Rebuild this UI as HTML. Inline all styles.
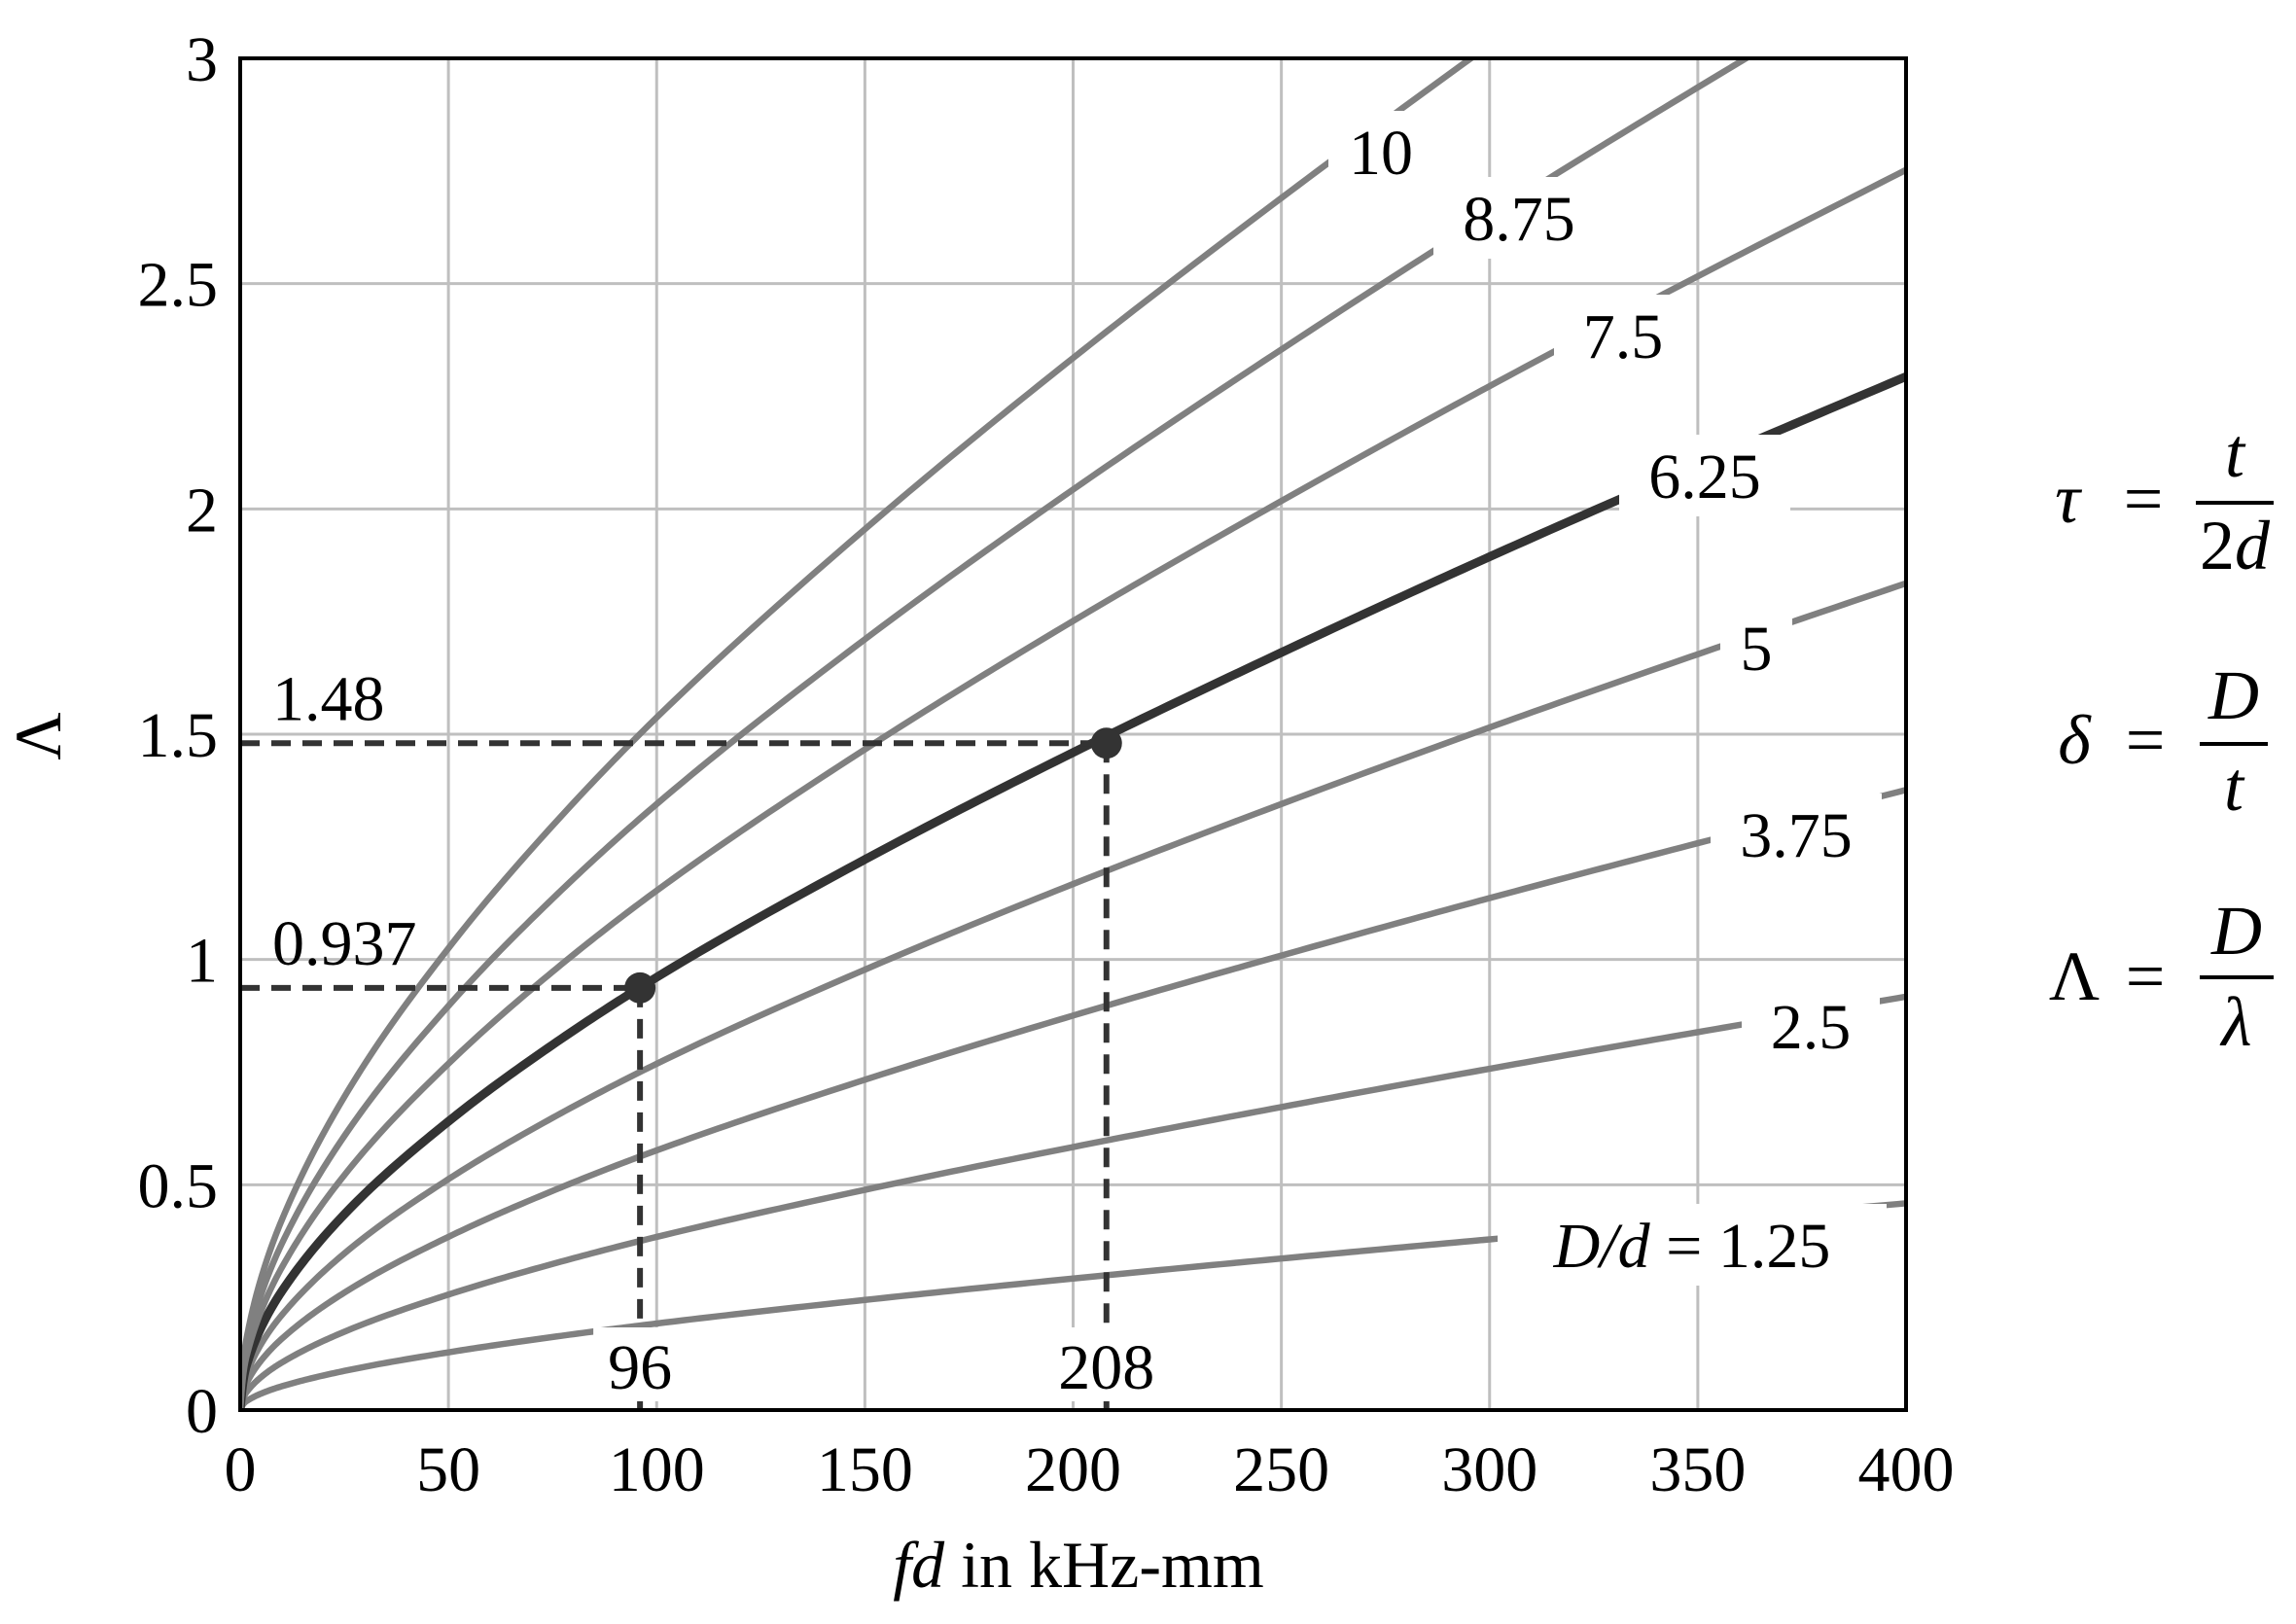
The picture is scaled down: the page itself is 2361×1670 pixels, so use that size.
<!DOCTYPE html>
<html><head><meta charset="utf-8"><style>
html,body{margin:0;padding:0;background:#fff}
svg{display:block}
text{font-family:"Liberation Serif","DejaVu Serif",serif;fill:#000}
</style></head><body>
<svg id="chart" width="2361" height="1670" viewBox="0 0 2361 1670" xmlns="http://www.w3.org/2000/svg">
<defs><clipPath id="plotclip"><rect x="247" y="60" width="1713" height="1390"/></clipPath></defs>
<g id="grid"></g>
<g id="curves" clip-path="url(#plotclip)"></g>
<g id="labels"></g>
<g id="marks"></g>
<rect x="247" y="60" width="1713" height="1390" fill="none" stroke="#000" stroke-width="4"/>
<g id="ticks"></g>
<text x="1109" y="1632" font-size="68" text-anchor="middle"><tspan font-style="italic">fd</tspan> in kHz-mm</text>
<text x="0" y="0" font-size="68" text-anchor="middle" transform="translate(62,757) rotate(-90)">Λ</text>
<g font-size="72">
<text x="2126" y="537" text-anchor="middle" font-style="italic">τ</text>
<text x="2204" y="537" text-anchor="middle">=</text>
<line x1="2258" y1="517" x2="2338" y2="517" stroke="#000" stroke-width="4"/>
<text x="2298" y="490" text-anchor="middle" font-style="italic">t</text>
<text x="2298" y="585" text-anchor="middle">2<tspan font-style="italic">d</tspan></text>
</g>
<g font-size="72">
<text x="2133" y="785" text-anchor="middle" font-style="italic">δ</text>
<text x="2206" y="785" text-anchor="middle">=</text>
<line x1="2262" y1="765" x2="2332" y2="765" stroke="#000" stroke-width="4"/>
<text x="2297" y="739" text-anchor="middle" font-style="italic">D</text>
<text x="2297" y="833" text-anchor="middle" font-style="italic">t</text>
</g>
<g font-size="72">
<text x="2133" y="1028" text-anchor="middle">Λ</text>
<text x="2206" y="1028" text-anchor="middle">=</text>
<line x1="2262" y1="1005" x2="2338" y2="1005" stroke="#000" stroke-width="4"/>
<text x="2300" y="981" text-anchor="middle" font-style="italic">D</text>
<text x="2300" y="1075" text-anchor="middle" font-style="italic">λ</text>
</g>
</svg>
<script>
const fdValues = [0,1,2,5,10,25,50,75,100,150,200,250,300,350,400];
const ratioLabels = ["1.25","2.5","3.75","5","6.25","7.5","8.75","10"];
const s125 = [0,0.0159,0.0226,0.0365,0.0528,0.0869,0.1281,0.1621,0.1921,0.2444,0.2919,0.3363,0.3788,0.4194,0.4588];
const s250 = [0,0.0318,0.0453,0.073,0.1055,0.1738,0.2563,0.3243,0.3843,0.4888,0.5838,0.6725,0.7575,0.8388,0.9175];
const s375 = [0,0.0476,0.0679,0.1095,0.1583,0.2606,0.3844,0.4864,0.5764,0.7331,0.8756,1.0088,1.1363,1.2581,1.3763];
const s500 = [0,0.0635,0.0905,0.146,0.211,0.3475,0.5125,0.6485,0.7685,0.9775,1.1675,1.345,1.515,1.6775,1.835];
const s625 = [0,0.0794,0.1131,0.1825,0.2638,0.4344,0.6406,0.8106,0.9606,1.2219,1.4594,1.6813,1.8938,2.0969,2.2938];
const s750 = [0,0.0953,0.1358,0.219,0.3165,0.5213,0.7688,0.9728,1.1528,1.4663,1.7513,2.0175,2.2725,2.5163,2.7525];
const s875 = [0,0.1111,0.1584,0.2555,0.3693,0.6081,0.8969,1.1349,1.3449,1.7106,2.0431,2.3538,2.6513,2.9356,3.2113];
const s1000 = [0,0.127,0.181,0.292,0.422,0.695,1.025,1.297,1.537,1.955,2.335,2.69,3.03,3.355,3.67];
const xTicks = [0,50,100,150,200,250,300,350,400];
const yTicks = [0,0.5,1,1.5,2,2.5,3];
const yTickLabels = ["0","0.5","1","1.5","2","2.5","3"];
const pointFd = [96,208];
const pointLambda = [0.937,1.48];
const pointFdLabels = ["96","208"];
const pointLambdaLabels = ["0.937","1.48"];

const L=247,T=60,R=1960,B=1450;
const xs = v => L + v/400*(R-L);
const ys = v => B - v/3*(B-T);
const NS="http://www.w3.org/2000/svg";
function mk(tag, attrs, parent){const e=document.createElementNS(NS,tag);for(const k in attrs)e.setAttribute(k,attrs[k]);parent.appendChild(e);return e;}

const grid=document.getElementById('grid');
xTicks.forEach(t=>{ if(t===0||t===400) return;
  const l=mk('line',{x1:xs(t),y1:T,x2:xs(t),y2:B,stroke:'#bfbfbf','stroke-width':3},grid);
  
  
});
yTicks.forEach(t=>{ if(t===0||t===3) return;
  const l=mk('line',{x1:L,y1:ys(t),x2:R,y2:ys(t),stroke:'#bfbfbf','stroke-width':3},grid);
  
  
});

function pathFor(vals){
  const n=fdValues.length, X=fdValues, Y=vals;
  const sec=[]; for(let i=0;i<n-1;i++) sec.push((Y[i+1]-Y[i])/(X[i+1]-X[i]));
  const m=[];
  for(let i=0;i<n;i++){
    if(i===0) m.push(sec[0]*1.5);
    else if(i===n-1) m.push(sec[n-2]);
    else { const h0=X[i]-X[i-1],h1=X[i+1]-X[i];
      const w1=2*h1+h0,w2=h1+2*h0;
      m.push((w1+w2)/(w1/sec[i-1]+w2/sec[i])); }
  }
  let d='';
  for(let i=0;i<n-1;i++){
    const h=X[i+1]-X[i], steps=24;
    for(let k=(i===0?0:1);k<=steps;k++){
      const t=k/steps,t2=t*t,t3=t2*t;
      const y=(2*t3-3*t2+1)*Y[i]+(t3-2*t2+t)*h*m[i]+(-2*t3+3*t2)*Y[i+1]+(t3-t2)*h*m[i+1];
      const x=X[i]+t*h;
      d+=(d?'L':'M')+xs(x).toFixed(2)+','+ys(y).toFixed(2);
    }
  }
  return d;
}
const curves=document.getElementById('curves');
const seriesList=[s125,s250,s375,s500,s625,s750,s875,s1000];
seriesList.forEach((s,i)=>{
  const hi = ratioLabels[i]==="6.25";
  const c=mk('path',{d:pathFor(s),fill:'none',stroke:hi?'#333':'#808080','stroke-width':hi?9:6.5,'stroke-linejoin':'round'},curves);
  
  
});

const labelPos=[[1740,1280],[1862,1055],[1847,858],[1806,666],[1753,489],[1669,345],[1562,224],[1420,156]];
const labels=document.getElementById('labels');
ratioLabels.forEach((r,i)=>{
  const [x,y]=labelPos[i];
  const w = i===0 ? 400 : r.length*34+40;
  const bg=mk('rect',{x:x-w/2,y:y-42,width:w,height:84,fill:'#fff'},labels);
  
  
  const t=mk('text',{x:x,y:y+23,'font-size':66,'text-anchor':'middle'},labels);
  if(i===0){ t.innerHTML='<tspan font-style="italic">D/d</tspan> = 1.25'; } else { t.textContent=r; }
  
  
});

const marks=document.getElementById('marks');
pointFd.forEach((f,i)=>{
  const x=xs(f), y=ys(pointLambda[i]);
  const h=mk('line',{x1:L,y1:y,x2:x,y2:y,stroke:'#333','stroke-width':6,'stroke-dasharray':'20 12'},marks);
  
  
  const v=mk('line',{x1:x,y1:y,x2:x,y2:B,stroke:'#333','stroke-width':6,'stroke-dasharray':'20 12'},marks);
  
  
  const c=mk('circle',{cx:x,cy:y,r:16,fill:'#333'},marks);
  
  
  const bx=mk('rect',{x:x-(pointFdLabels[i].length*17+14),y:1365,width:pointFdLabels[i].length*34+28,height:76,fill:'#fff'},marks);
  
  
  const tx=mk('text',{x:x,y:1428,'font-size':66,'text-anchor':'middle'},marks);
  tx.textContent=pointFdLabels[i];
  
  
  const tl=mk('text',{x:280,y:y-24,'font-size':66,'text-anchor':'start'},marks);
  tl.textContent=pointLambdaLabels[i];
  
  
});

const ticks=document.getElementById('ticks');
xTicks.forEach(t=>{
  const e=mk('text',{x:xs(t),y:1533,'font-size':66,'text-anchor':'middle'},ticks);
  e.textContent=String(t);
  
  
});
yTicks.forEach((t,i)=>{
  const e=mk('text',{x:224,y:ys(t)+23,'font-size':66,'text-anchor':'end'},ticks);
  e.textContent=yTickLabels[i];
  
  
});
</script>
</body></html>
